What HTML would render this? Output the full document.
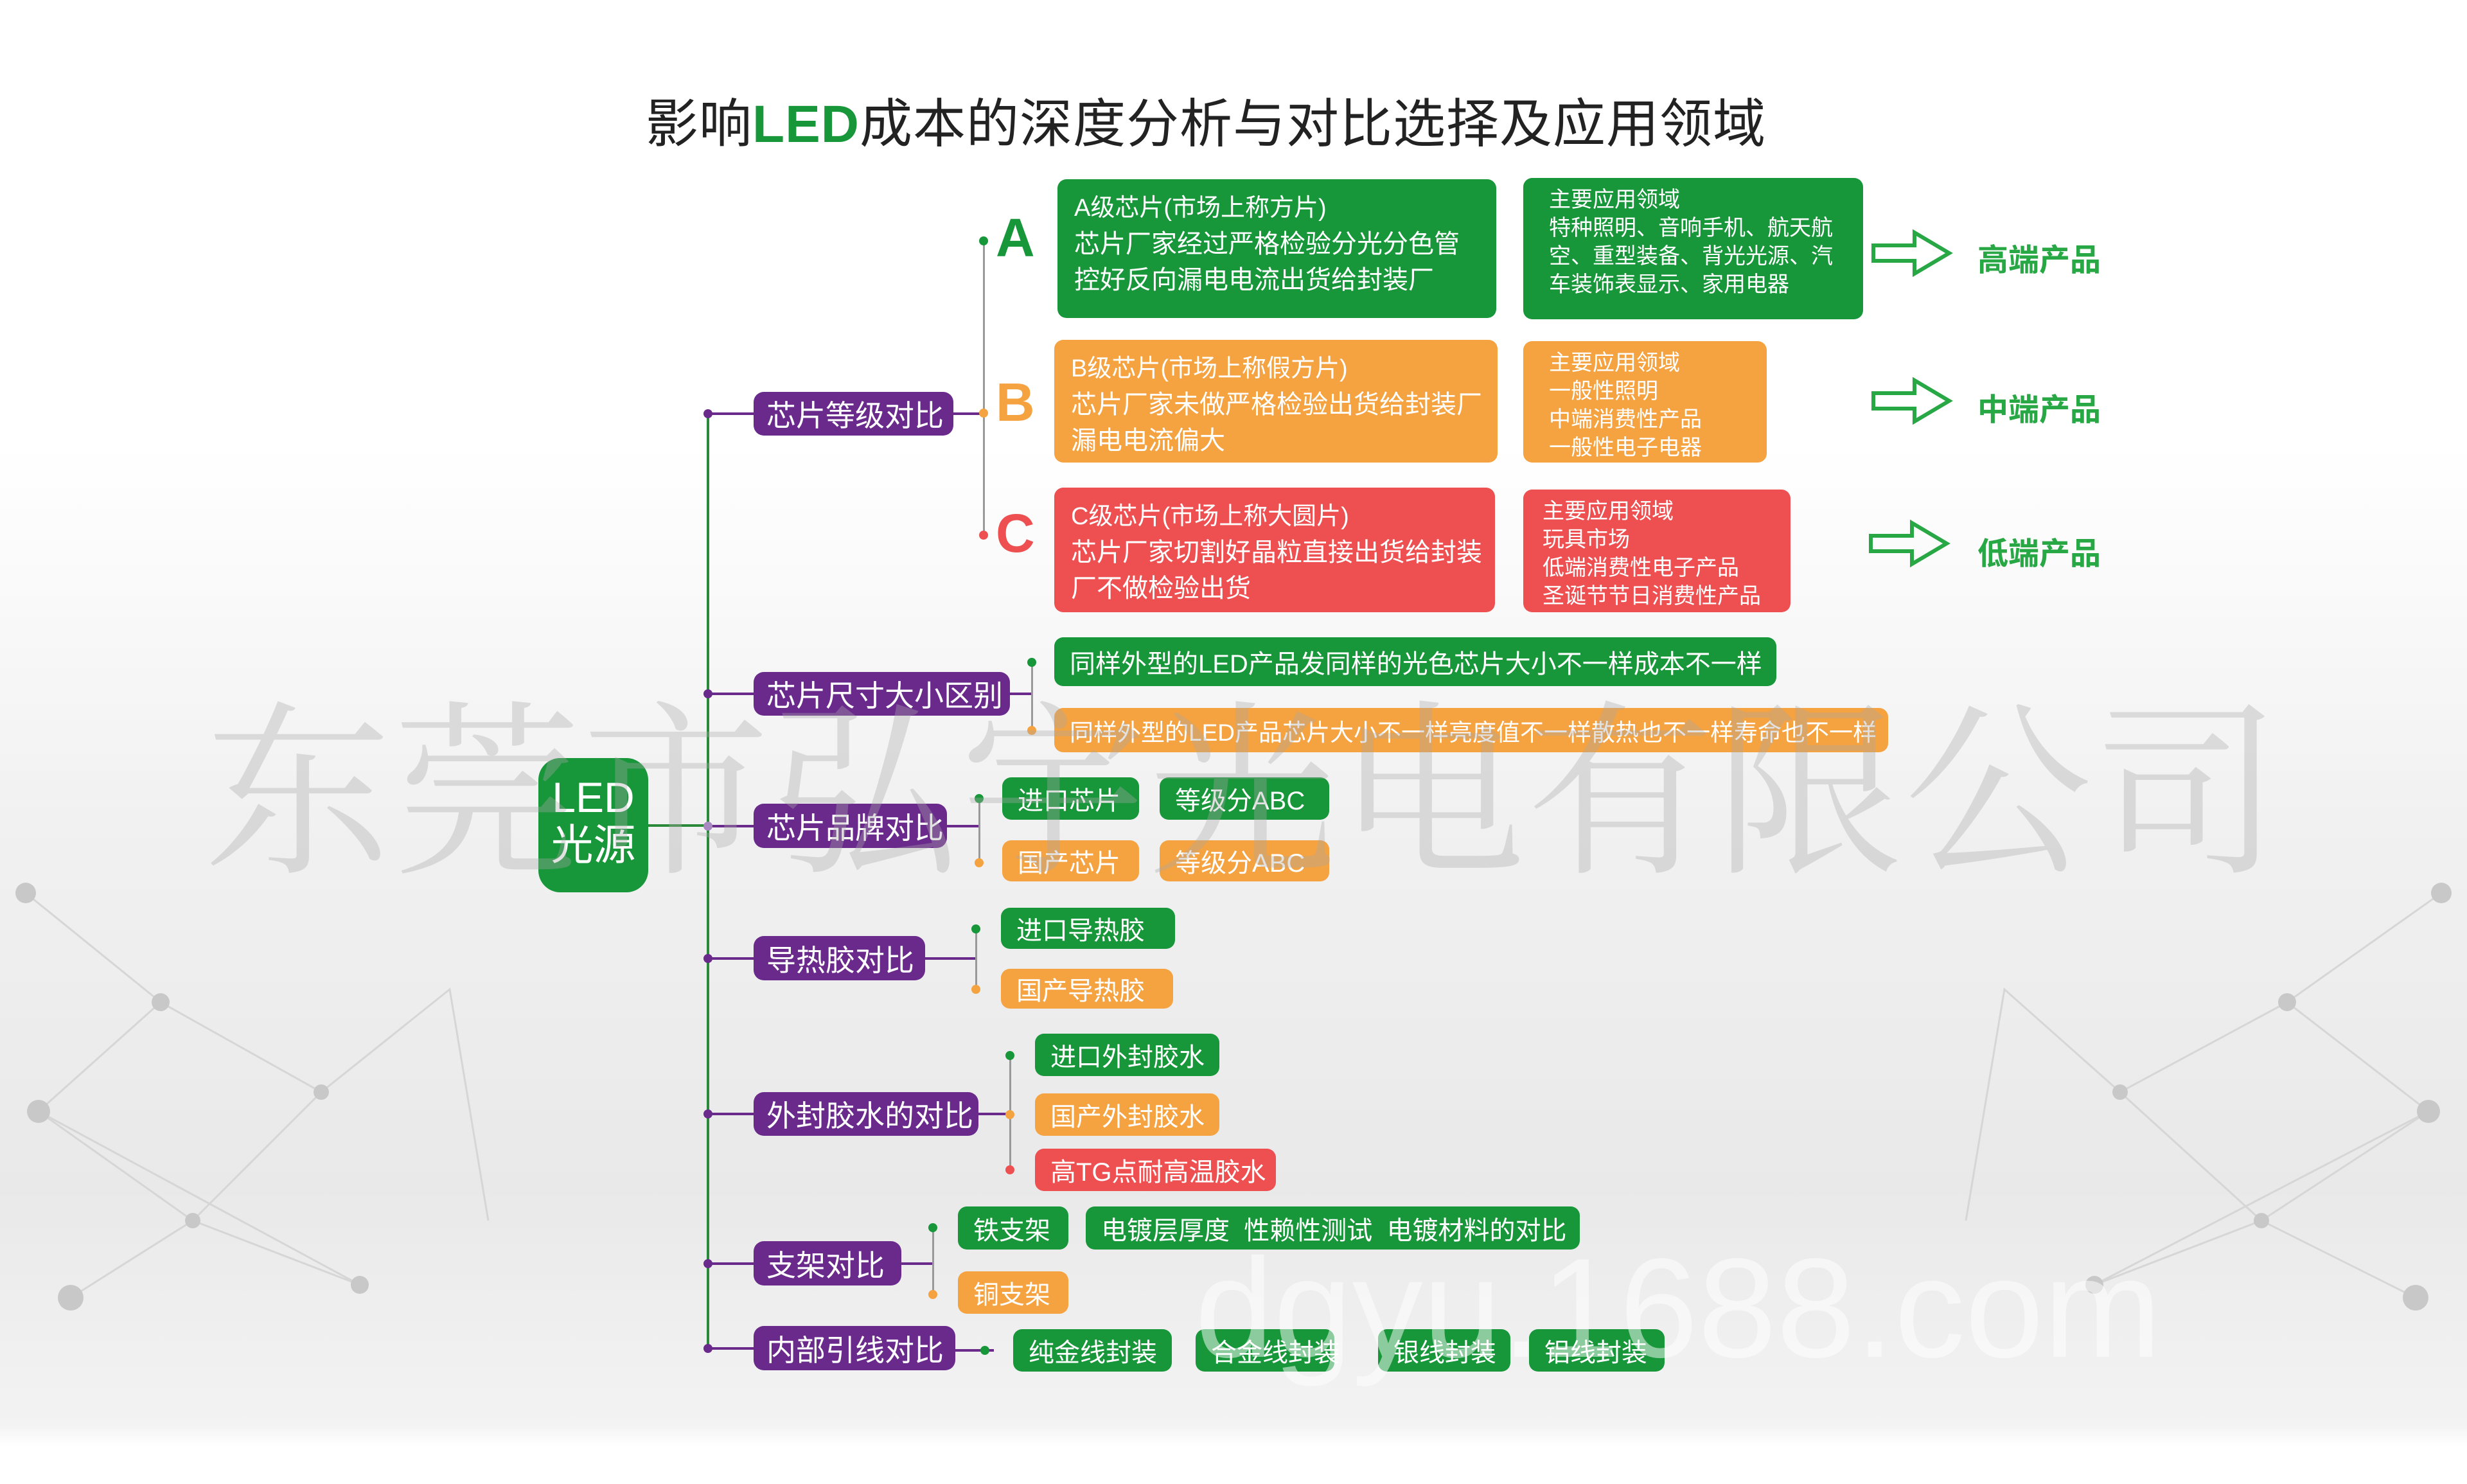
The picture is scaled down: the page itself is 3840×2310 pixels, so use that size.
<!DOCTYPE html>
<html><head><meta charset="utf-8"><style>
*{margin:0;padding:0;box-sizing:border-box}
body{width:3840px;height:2310px;position:relative;overflow:hidden;font-family:"Liberation Sans","Noto Sans CJK SC",sans-serif;
background:linear-gradient(180deg,#fff 0%,#fff 30%,#f1f1f1 55%,#e9e9e9 80%,#f3f3f3 96%,#fff 97.5%,#fff 100%)}
.a{position:absolute}
.box{position:absolute;color:#fff;border-radius:14px;display:flex;align-items:center;white-space:nowrap}
.p{background:#6a2a8c;font-size:46px;padding-left:20px;border-radius:16px}
.g{background:#17963a}.o{background:#f5a240}.r{background:#ee5052}
.s{font-size:40px;padding-left:24px}
.ml{font-size:40px;line-height:56px;padding:0 26px;display:block;padding-top:16px}
.ml2{font-size:34px;line-height:44px;padding:0 36px;display:block;padding-top:12px}
.v{position:absolute;width:4px}
.h{position:absolute;height:4px}
.dot{position:absolute;width:14px;height:14px;border-radius:50%}
.lbl{position:absolute;color:#28a745;font-weight:bold;font-size:48px}
.L{position:absolute;font-size:84px;font-weight:bold}
</style></head><body>
<svg class="a" style="left:0;top:0" width="3840" height="2310">
<g stroke="#d6d6d6" stroke-width="3" fill="none">
<path d="M40 1390 L250 1560 L60 1730 L300 1900 L110 2020 M250 1560 L500 1700 L300 1900 L560 2000 M500 1700 L700 1540 L760 1900 M60 1730 L560 2000"/>
<path d="M3800 1390 L3560 1560 L3780 1730 L3520 1900 L3760 2020 M3560 1560 L3300 1700 L3520 1900 L3260 2000 M3300 1700 L3120 1540 L3060 1900 M3780 1730 L3260 2000"/>
</g>
<g fill="#c8c8c8"><circle cx="40" cy="1390" r="16"/><circle cx="250" cy="1560" r="14"/><circle cx="60" cy="1730" r="18"/><circle cx="300" cy="1900" r="12"/><circle cx="110" cy="2020" r="20"/><circle cx="500" cy="1700" r="12"/><circle cx="560" cy="2000" r="14"/><circle cx="3800" cy="1390" r="16"/><circle cx="3560" cy="1560" r="14"/><circle cx="3780" cy="1730" r="18"/><circle cx="3520" cy="1900" r="12"/><circle cx="3760" cy="2020" r="20"/><circle cx="3300" cy="1700" r="12"/><circle cx="3260" cy="2000" r="14"/></g>
</svg>

<div class="a" style="left:1005px;top:126px;font-size:82px;color:#222;white-space:nowrap;letter-spacing:1px">影响<span style="color:#17963a;font-weight:bold">LED</span>成本的深度分析与对比选择及应用领域</div>

<div class="v" style="left:1100px;top:644px;height:1456px;background:#2a8a3a"></div>
<div class="h" style="left:1009px;top:1283px;width:94px;background:#2a8a3a"></div>

<div class="box g" style="left:838px;top:1180px;width:171px;height:209px;border-radius:34px;font-size:66px;line-height:74px;display:block;text-align:center;padding-top:24px">LED<br>光源</div>

<div class="h" style="left:1100px;top:642px;width:73px;background:#6a2a8c"></div><div class="dot" style="left:1095px;top:637px;background:#6a2a8c"></div>
<div class="box p" style="left:1173px;top:610px;width:311px;height:68px">芯片等级对比</div>
<div class="h" style="left:1100px;top:1078px;width:73px;background:#6a2a8c"></div><div class="dot" style="left:1095px;top:1073px;background:#6a2a8c"></div>
<div class="box p" style="left:1173px;top:1046px;width:399px;height:68px">芯片尺寸大小区别</div>
<div class="h" style="left:1100px;top:1284px;width:73px;background:#6a2a8c"></div><div class="dot" style="left:1095px;top:1279px;background:#a888c0"></div>
<div class="box p" style="left:1173px;top:1251px;width:301px;height:69px">芯片品牌对比</div>
<div class="h" style="left:1100px;top:1490px;width:73px;background:#6a2a8c"></div><div class="dot" style="left:1095px;top:1485px;background:#6a2a8c"></div>
<div class="box p" style="left:1173px;top:1457px;width:267px;height:69px">导热胶对比</div>
<div class="h" style="left:1100px;top:1732px;width:73px;background:#6a2a8c"></div><div class="dot" style="left:1095px;top:1727px;background:#6a2a8c"></div>
<div class="box p" style="left:1173px;top:1700px;width:350px;height:68px">外封胶水的对比</div>
<div class="h" style="left:1100px;top:1965px;width:73px;background:#6a2a8c"></div><div class="dot" style="left:1095px;top:1960px;background:#6a2a8c"></div>
<div class="box p" style="left:1173px;top:1932px;width:230px;height:69px">支架对比</div>
<div class="h" style="left:1100px;top:2097px;width:73px;background:#6a2a8c"></div><div class="dot" style="left:1095px;top:2092px;background:#6a2a8c"></div>
<div class="box p" style="left:1173px;top:2064px;width:314px;height:69px">内部引线对比</div>

<div class="h" style="left:1484px;top:642px;width:48px;background:#6a2a8c"></div>
<div class="v" style="left:1530px;top:375px;height:460px;width:3px;background:#999"></div>
<div class="dot" style="left:1524px;top:368px;background:#17963a"></div>
<div class="dot" style="left:1524px;top:636px;background:#f5a240"></div>
<div class="dot" style="left:1524px;top:826px;background:#ee5052"></div>
<div class="L" style="left:1550px;top:322px;color:#17963a">A</div>
<div class="L" style="left:1550px;top:578px;color:#f5a240">B</div>
<div class="L" style="left:1550px;top:782px;color:#ee5052">C</div>

<div class="box g ml" style="left:1646px;top:279px;width:683px;height:216px"><span style="font-size:38px">A级芯片(市场上称方片)</span><br>芯片厂家经过严格检验分光分色管<br>控好反向漏电电流出货给封装厂</div>
<div class="box g ml2" style="left:2371px;top:277px;width:529px;height:220px;padding-left:40px">主要应用领域<br>特种照明、音响手机、航天航<br>空、重型装备、背光光源、汽<br>车装饰表显示、家用电器</div>
<div class="box o ml" style="left:1641px;top:529px;width:690px;height:191px"><span style="font-size:38px">B级芯片(市场上称假方片)</span><br>芯片厂家未做严格检验出货给封装厂<br>漏电电流偏大</div>
<div class="box o ml2" style="left:2371px;top:531px;width:379px;height:189px;padding-left:40px">主要应用领域<br>一般性照明<br>中端消费性产品<br>一般性电子电器</div>
<div class="box r ml" style="left:1641px;top:759px;width:686px;height:194px"><span style="font-size:38px">C级芯片(市场上称大圆片)</span><br>芯片厂家切割好晶粒直接出货给封装<br>厂不做检验出货</div>
<div class="box r ml2" style="left:2371px;top:762px;width:416px;height:191px;padding-left:30px">主要应用领域<br>玩具市场<br>低端消费性电子产品<br>圣诞节节日消费性产品</div>

<svg class="a" style="left:2900px;top:350px" width="160" height="560">
<g fill="none" stroke="#28a745" stroke-width="6">
<path d="M16 32 H80 V12 L134 44 L80 76 V56 H16 Z"/>
<path d="M16 262 H80 V242 L134 274 L80 306 V286 H16 Z"/>
<path d="M12 484 H76 V464 L130 496 L76 528 V508 H12 Z"/>
</g></svg>
<div class="lbl" style="left:3078px;top:365px">高端产品</div>
<div class="lbl" style="left:3078px;top:598px">中端产品</div>
<div class="lbl" style="left:3078px;top:822px">低端产品</div>

<div class="h" style="left:1572px;top:1078px;width:35px;background:#6a2a8c"></div>
<div class="v" style="left:1605px;top:1030px;height:108px;width:3px;background:#999"></div>
<div class="dot" style="left:1599px;top:1024px;background:#17963a"></div><div class="dot" style="left:1599px;top:1130px;background:#f5a240"></div>
<div class="box g s" style="left:1641px;top:992px;width:1124px;height:76px">同样外型的LED产品发同样的光色芯片大小不一样成本不一样</div>
<div class="box o s" style="left:1641px;top:1102px;width:1298px;height:69px;font-size:37px">同样外型的LED产品芯片大小不一样亮度值不一样散热也不一样寿命也不一样</div>

<div class="h" style="left:1474px;top:1284px;width:52px;background:#6a2a8c"></div>
<div class="v" style="left:1523px;top:1242px;height:100px;width:3px;background:#999"></div>
<div class="dot" style="left:1517px;top:1236px;background:#17963a"></div><div class="dot" style="left:1517px;top:1336px;background:#f5a240"></div>
<div class="box g s" style="left:1560px;top:1210px;width:213px;height:66px">进口芯片</div>
<div class="box g s" style="left:1805px;top:1210px;width:264px;height:66px">等级分ABC</div>
<div class="box o s" style="left:1560px;top:1308px;width:213px;height:64px">国产芯片</div>
<div class="box o s" style="left:1805px;top:1308px;width:264px;height:64px">等级分ABC</div>

<div class="h" style="left:1440px;top:1490px;width:80px;background:#6a2a8c"></div>
<div class="v" style="left:1518px;top:1445px;height:95px;width:3px;background:#999"></div>
<div class="dot" style="left:1512px;top:1439px;background:#17963a"></div><div class="dot" style="left:1512px;top:1533px;background:#f5a240"></div>
<div class="box g s" style="left:1558px;top:1413px;width:271px;height:64px">进口导热胶</div>
<div class="box o s" style="left:1558px;top:1508px;width:268px;height:62px">国产导热胶</div>

<div class="h" style="left:1523px;top:1732px;width:50px;background:#6a2a8c"></div>
<div class="v" style="left:1571px;top:1642px;height:180px;width:3px;background:#999"></div>
<div class="dot" style="left:1565px;top:1636px;background:#17963a"></div><div class="dot" style="left:1565px;top:1728px;background:#f5a240"></div><div class="dot" style="left:1565px;top:1814px;background:#ee5052"></div>
<div class="box g s" style="left:1611px;top:1609px;width:287px;height:66px">进口外封胶水</div>
<div class="box o s" style="left:1611px;top:1702px;width:287px;height:66px">国产外封胶水</div>
<div class="box r s" style="left:1611px;top:1788px;width:375px;height:66px">高TG点耐高温胶水</div>

<div class="h" style="left:1403px;top:1965px;width:50px;background:#6a2a8c"></div>
<div class="v" style="left:1451px;top:1910px;height:105px;width:3px;background:#999"></div>
<div class="dot" style="left:1445px;top:1904px;background:#17963a"></div><div class="dot" style="left:1445px;top:2008px;background:#f5a240"></div>
<div class="box g s" style="left:1491px;top:1878px;width:172px;height:67px">铁支架</div>
<div class="box g s" style="left:1690px;top:1878px;width:769px;height:67px">电镀层厚度 &nbsp;性赖性测试 &nbsp;电镀材料的对比</div>
<div class="box o s" style="left:1491px;top:1979px;width:172px;height:66px">铜支架</div>

<div class="h" style="left:1487px;top:2100px;width:60px;background:#6a2a8c"></div>
<div class="dot" style="left:1526px;top:2095px;background:#17963a"></div>
<div class="box g s" style="left:1577px;top:2069px;width:247px;height:66px">纯金线封装</div>
<div class="box g s" style="left:1861px;top:2069px;width:216px;height:66px">合金线封装</div>
<div class="box g s" style="left:2145px;top:2069px;width:206px;height:66px">银线封装</div>
<div class="box g s" style="left:2380px;top:2069px;width:211px;height:66px">铝线封装</div>

<div class="a" style="left:318px;top:1000px;font-size:292px;color:rgba(170,170,170,0.35);font-family:'Liberation Serif','Noto Serif CJK SC',serif;white-space:nowrap;letter-spacing:2px">东莞市弘宇光电有限公司</div>
<div class="a" style="left:1860px;top:1910px;font-size:220px;color:rgba(255,255,255,0.5);white-space:nowrap">dgyu.1688.com</div>
</body></html>
